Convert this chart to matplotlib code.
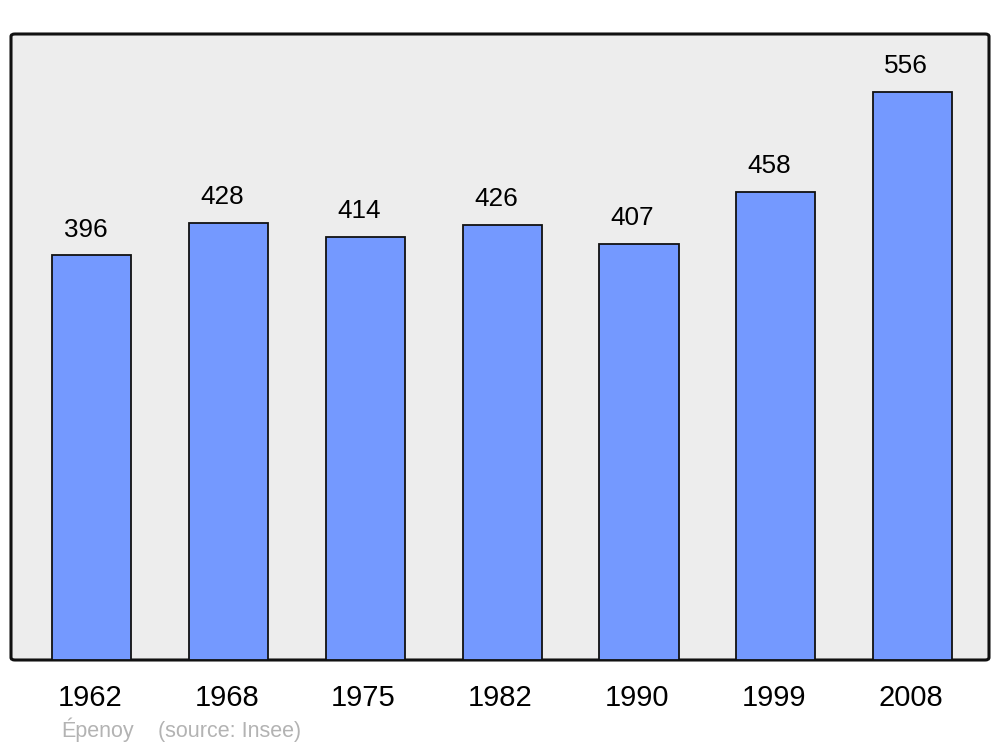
import matplotlib.pyplot as plt
from matplotlib.patches import FancyBboxPatch

years = ["1962", "1968", "1975", "1982", "1990", "1999", "2008"]
population = [396, 428, 414, 426, 407, 458, 556]

plt.rcParams["font.family"] = ["Liberation Sans", "DejaVu Sans"]


def main():
    fig = plt.figure(figsize=(10, 7.47), dpi=100)
    fig.patch.set_facecolor("white")
    ax = fig.add_axes([0.011, 1 - 660 / 747, 0.978, 626 / 747])
    ax.set_facecolor("none")

    # rounded frame behind everything
    frame = FancyBboxPatch((0, 0), 1, 1, boxstyle="round,pad=0,rounding_size=0.004",
                           transform=ax.transAxes, facecolor="#ededed",
                           edgecolor="#111111", lw=2.2, zorder=0, clip_on=False)
    ax.add_patch(frame)

    x = list(range(len(years)))
    ax.bar(x, population, width=0.578, color="#7499ff", edgecolor="#111111",
           lw=1.3, zorder=2)

    for xi, v in zip(x, population):
        ax.annotate(str(v), (xi, v), xytext=(-4.6, 13.5), textcoords="offset points",
                    ha="center", va="baseline", fontsize=18.8, color="black")

    ax.set_xlim(-0.592, 6.559)
    ax.set_ylim(0, 612.8)
    ax.set_xticks([xi - 0.015 for xi in x])
    ax.set_xticklabels(years, fontsize=21)
    ax.tick_params(axis="x", length=0, pad=17)
    ax.set_yticks([])
    for spine in ax.spines.values():
        spine.set_visible(False)

    fig.text(0.061, 1 - 737 / 747, "Épenoy", fontsize=15.5, color="#b3b3b3",
             ha="left", va="baseline")
    fig.text(0.158, 1 - 737 / 747, "(source: Insee)", fontsize=15.5, color="#b3b3b3",
             ha="left", va="baseline")

    fig.savefig("out.png", dpi=100)
    plt.close(fig)


if __name__ == "__main__":
    main()
